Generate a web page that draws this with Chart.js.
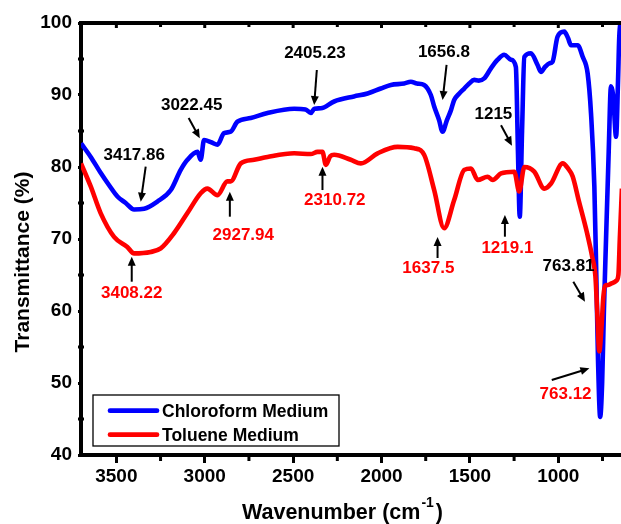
<!DOCTYPE html>
<html>
<head>
<meta charset="utf-8">
<script src="https://cdn.jsdelivr.net/npm/chart.js@4/dist/chart.umd.min.js"></script>
<style>
html,body{margin:0;padding:0;overflow:hidden;background:#fff;}
#wrap{width:660px;height:524px;position:relative;}
</style>
</head>
<body>
<div id="wrap"><canvas id="c"></canvas></div>
<script>
// ---- Data (wavenumber cm^-1, transmittance %) ----
const chloroWn = [3700,3645,3589,3542,3494,3447,3400,3343,3268,3192,3136,3098,3041,3023,3004,2960,2928,2891,2853,2815,2740,2645,2494,2430,2400,2380,2343,2268,2156,2079,2004,1947,1872,1834,1800,1759,1721,1702,1674,1655,1630,1607,1589,1560,1532,1504,1476,1450,1419,1381,1343,1306,1268,1240,1228,1218,1205,1192,1155,1118,1098,1075,1051,1033,1004,966,945,928,890,862,834,815,796,785,775,763,752,742,730,715,702,690,673,662,655,645];
const chloroT  = [83.3,81.4,79.2,77.5,75.9,75.0,74.1,74.2,75.2,76.8,79.6,81.0,82.1,81.0,83.75,83.4,83.1,84.7,84.9,86.3,86.8,87.5,88.1,88.0,87.5,88.1,88.15,89.1,89.8,90.2,90.9,91.4,91.6,91.85,91.6,91.4,90.0,88.4,86.5,84.9,86.5,87.9,89.3,90.2,90.9,91.6,92.1,92.0,92.3,93.7,94.9,95.6,94.9,93.9,82.0,73.1,85.0,95.3,95.8,94.2,93.2,93.9,94.4,94.6,98.1,98.8,97.9,96.9,96.9,95.3,93.0,87.5,77.3,65.0,53.0,45.3,50.0,60.0,69.9,82.0,91.2,90.0,84.2,92.0,98.1,100.5];
const tolueneWn = [3700,3645,3589,3513,3438,3400,3306,3249,3174,3098,3023,2985,2928,2872,2853,2796,2721,2645,2494,2400,2362,2334,2315,2290,2268,2174,2117,2022,1909,1815,1759,1702,1646,1589,1532,1494,1456,1400,1371,1324,1249,1221,1192,1136,1079,1041,975,945,919,885,837,808,790,780,768,755,745,735,720,702,672,660,652,640];
const tolueneT  = [80.5,77.3,73.6,70.3,68.9,68.0,68.2,68.7,70.8,73.6,76.35,77.0,76.1,78.0,78.0,80.5,81.0,81.4,81.9,81.8,82.1,82.1,80.3,81.5,81.7,81.0,80.5,81.9,82.8,82.6,81.7,76.8,71.5,75.4,79.6,79.8,78.2,78.65,78.2,79.1,79.35,76.6,80.0,79.35,77.0,77.7,80.5,79.8,78.7,75.4,70.8,67.5,64.8,60.0,54.4,58.0,62.0,63.5,63.6,63.8,64.2,65.0,70.0,77.0];
const seriesLabels = ["Chloroform Medium", "Toluene Medium"];
const xTickValues = [3500,3000,2500,2000,1500,1000];
const xMinorValues = [3250,2750,2250,1750,1250,750];
const yTickValues = [40,50,60,70,80,90,100];
const yMinorValues = [45,55,65,75,85,95];

// Peak annotations: text, colour, text position, arrow start, arrow end (data units)
const annoText  = ["3417.86","3022.45","2405.23","1656.8","1215","763.81","3408.22","2927.94","2310.72","1637.5","1219.1","763.12"];
const annoBlack = [true,true,true,true,true,true,false,false,false,false,false,false];
const annoPos   = [[3399,81.67],[3074,88.6],[2377,95.83],[1647,95.97],[1367,87.36],[942,66.15],[3413,62.46],[2782,70.56],[2264,75.42],[1735,65.93],[1288,68.71],[959,48.47]];
const annoFrom  = [[3334,80.04],[3091,86.8],[2366,93.47],[1632,94.17],[1324,85.8],[915,64.07],[3413,64.07],[2858,73.1],[2334,76.8],[1683,67.36],[1302,70.32],[1037,50.42]];
const annoTo    = [[3362,75.18],[3028,84.0],[2381,88.6],[1654.5,89.3],[1262,82.96],[849,61.3],[3413,67.54],[2858,76.57],[2334,80.04],[1683,70.28],[1302,73.33],[824,52.04]];

const FONT = '"Liberation Sans", Arial, Helvetica, sans-serif';

const decor = {
  id: 'decor',
  afterDatasetsDraw(chart) {
    const ctx = chart.ctx, a = chart.chartArea;
    const xs = chart.scales.x, ys = chart.scales.y;
    ctx.save();
    // top and right frame lines
    ctx.strokeStyle = '#000'; ctx.lineWidth = 4;
    ctx.beginPath(); ctx.moveTo(a.left - 2, a.top); ctx.lineTo(a.right + 2, a.top); ctx.stroke();
    ctx.beginPath(); ctx.moveTo(a.right, a.top); ctx.lineTo(a.right, a.bottom); ctx.stroke();
    // minor ticks
    ctx.lineWidth = 3;
    xMinorValues.forEach(v => { const px = xs.getPixelForValue(v);
      ctx.beginPath(); ctx.moveTo(px, a.bottom); ctx.lineTo(px, a.bottom + 6); ctx.stroke();
      ctx.beginPath(); ctx.moveTo(px, a.top); ctx.lineTo(px, a.top + 4); ctx.stroke(); });
    xTickValues.forEach(v => { const px = xs.getPixelForValue(v);
      ctx.beginPath(); ctx.moveTo(px, a.top); ctx.lineTo(px, a.top + 5); ctx.stroke(); });
    yMinorValues.forEach(v => { const py = ys.getPixelForValue(v);
      ctx.beginPath(); ctx.moveTo(a.left - 3, py); ctx.lineTo(a.left + 3, py); ctx.stroke(); });
    // annotations
    ctx.font = 'bold 17px ' + FONT;
    ctx.textAlign = 'center'; ctx.textBaseline = 'middle';
    annoText.forEach((t, i) => {
      const col = annoBlack[i] ? '#000' : '#ff0000';
      ctx.fillStyle = col;
      ctx.fillText(t, xs.getPixelForValue(annoPos[i][0]), ys.getPixelForValue(annoPos[i][1]));
      const x1 = xs.getPixelForValue(annoFrom[i][0]), y1 = ys.getPixelForValue(annoFrom[i][1]);
      const x2 = xs.getPixelForValue(annoTo[i][0]), y2 = ys.getPixelForValue(annoTo[i][1]);
      const ang = Math.atan2(y2 - y1, x2 - x1), hl = 9, hw = 4;
      ctx.strokeStyle = '#000'; ctx.fillStyle = '#000'; ctx.lineWidth = 2;
      ctx.beginPath(); ctx.moveTo(x1, y1);
      ctx.lineTo(x2 - Math.cos(ang) * hl * 0.8, y2 - Math.sin(ang) * hl * 0.8); ctx.stroke();
      ctx.beginPath(); ctx.moveTo(x2, y2);
      ctx.lineTo(x2 - Math.cos(ang) * hl - Math.sin(ang) * hw, y2 - Math.sin(ang) * hl + Math.cos(ang) * hw);
      ctx.lineTo(x2 - Math.cos(ang) * hl + Math.sin(ang) * hw, y2 - Math.sin(ang) * hl - Math.cos(ang) * hw);
      ctx.closePath(); ctx.fill();
    });
    // legend
    const lx = a.left + 12, ly = a.bottom - 60, lw = 246, lh = 51;
    ctx.lineWidth = 1.3; ctx.strokeStyle = '#000';
    ctx.strokeRect(lx, ly, lw, lh);
    ctx.font = 'bold 17.5px ' + FONT; ctx.textAlign = 'left'; ctx.textBaseline = 'middle';
    chart.data.datasets.forEach((ds, i) => {
      const yy = ly + 15.7 + i * 24;
      ctx.strokeStyle = ds.borderColor; ctx.lineWidth = 4.7; ctx.lineCap = 'round';
      ctx.beginPath(); ctx.moveTo(lx + 17, yy); ctx.lineTo(lx + 64, yy); ctx.stroke();
      ctx.fillStyle = '#000'; ctx.fillText(ds.label, lx + 69, yy + 1);
    });
    // axis titles
    ctx.fillStyle = '#000';
    ctx.font = 'bold 21px ' + FONT;
    ctx.save(); ctx.translate(23, (a.top + a.bottom) / 2 + 23); ctx.rotate(-Math.PI / 2);
    ctx.textAlign = 'center'; ctx.textBaseline = 'middle';
    ctx.fillText('Transmittance (%)', 0, 0); ctx.restore();
    const main = 'Wavenumber (cm', sup = '-1', close = ')';
    ctx.font = 'bold 21.5px ' + FONT; const w1 = ctx.measureText(main).width, w3 = ctx.measureText(close).width;
    ctx.font = 'bold 14px ' + FONT; const w2 = ctx.measureText(sup).width;
    let sx = 342.5 - (w1 + w2 + w3 + 3) / 2; const by = 513;
    ctx.textAlign = 'left'; ctx.textBaseline = 'middle';
    ctx.font = 'bold 21.5px ' + FONT; ctx.fillText(main, sx, by);
    ctx.font = 'bold 14px ' + FONT; ctx.fillText(sup, sx + w1 + 1, by - 10);
    ctx.font = 'bold 21.5px ' + FONT; ctx.fillText(close, sx + w1 + w2 + 3, by);
    ctx.restore();
  }
};

const toPts = (xs, ys) => xs.map((x, i) => ({x: x, y: ys[i]}));

new Chart(document.getElementById('c'), {
  type: 'line',
  data: {
    datasets: [
      { label: seriesLabels[0], data: toPts(chloroWn, chloroT), borderColor: '#0000ff', borderWidth: 4.6, pointRadius: 0, cubicInterpolationMode: 'monotone', borderJoinStyle: 'round', order: 1 },
      { label: seriesLabels[1], data: toPts(tolueneWn, tolueneT), borderColor: '#ff0000', borderWidth: 4.6, pointRadius: 0, cubicInterpolationMode: 'monotone', borderJoinStyle: 'round', order: 0 }
    ]
  },
  options: {
    responsive: true, maintainAspectRatio: false, animation: false, devicePixelRatio: 1,
    layout: { padding: { top: 23, right: 31, left: 0, bottom: 0 } },
    plugins: { legend: { display: false }, tooltip: { enabled: false } },
    scales: {
      x: {
        type: 'linear', reverse: true, min: 600, max: 3700,
        afterFit: s => { s.height = 69; },
        afterBuildTicks: s => { s.ticks = xTickValues.map(v => ({value: v})); },
        grid: { drawOnChartArea: false, drawTicks: true, tickLength: 8, tickWidth: 3, tickColor: '#000' },
        border: { display: true, width: 4, color: '#000' },
        ticks: { color: '#000', font: { family: FONT, size: 19, weight: 'bold' }, padding: 2, maxRotation: 0, callback: v => String(v) }
      },
      y: {
        min: 40, max: 100,
        afterFit: s => { s.width = 81; },
        afterBuildTicks: s => { s.ticks = yTickValues.map(v => ({value: v})); },
        grid: { drawOnChartArea: false, drawTicks: true, tickLength: 3, tickWidth: 3, tickColor: '#000' },
        border: { display: true, width: 4, color: '#000' },
        ticks: { color: '#000', font: { family: FONT, size: 19, weight: 'bold' }, padding: 6, callback: v => String(v) }
      }
    }
  },
  plugins: [decor]
});
</script>
</body>
</html>
